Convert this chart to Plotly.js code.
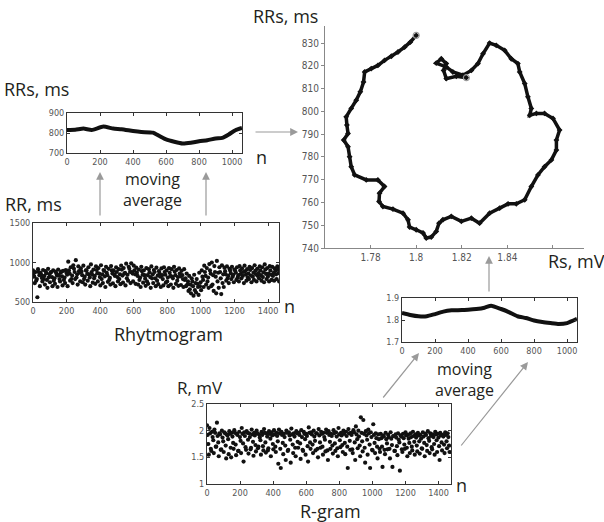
<!DOCTYPE html>
<html><head><meta charset="utf-8">
<script src="https://cdn.plot.ly/plotly-3.0.1.min.js"></script>
<style>html,body{margin:0;padding:0;background:#fff}#chart{width:604px;height:522px}</style>
</head><body><div id="chart"></div>
<script>
// ---- Panel 1: RRs moving average vs n ----
const rrsN   = [0,50,100,150,220,280,330,400,450,520,560,600,650,700,750,800,850,900,940,980,1020,1060];
const rrsVal = [815,816,822,815,832,822,819,810,805,802,785,768,756,747,751,759,764,773,776,793,814,825];

// ---- Panel 2: Rhytmogram (RR, ms), samples every 15 beats, four layers ----
const rrStep = 15;
const rrTop = [900,880,915,870,905,890,920,875,900,885,910,870,895,905,
  1010,940,965,1030,950,
  925,960,900,940,975,910,950,930,965,905,945,920,955,900,940,915,960,930,985,945,990,960,
  935,910,945,900,930,915,950,905,935,890,925,940,900,930,915,945,905,925,895,915,
  860,830,800,845,790,870,900,
  960,930,980,1000,955,1020,940,965,
  935,950,920,945,910,940,955,925,960,915,945,930,965,920,950,940,975,930,955,945,925,950];
const rrFill = [860,770,880,845,790,865,810,880,770,860,840,885,780,870,
  900,790,920,810,890,
  885,790,900,850,880,800,905,860,790,895,870,780,900,850,880,790,910,860,800,920,880,900,
  870,780,890,840,760,875,800,880,770,860,840,880,760,870,820,885,770,860,840,780,
  720,660,760,650,730,700,820,
  880,760,900,720,880,760,880,740,
  890,800,900,820,895,810,900,830,890,810,905,820,895,830,900,815,910,820,900,830,895,910];
const rrMid = [820,790,840,805,830,780,850,815,800,835,790,825,810,845,
  860,835,880,850,870,
  840,820,855,810,845,830,865,815,850,825,840,805,860,830,815,850,835,870,845,880,860,850,
  830,810,845,795,840,815,850,800,835,820,790,845,810,830,800,840,815,825,790,800,
  760,720,700,740,690,750,780,
  830,810,860,840,820,870,800,850,
  850,830,865,845,870,840,855,880,845,860,835,870,850,865,840,875,855,860,845,870,850,865];
const rrLow = [740,560,700,760,720,680,750,700,730,690,760,710,740,700,
  770,740,790,720,760,
  750,720,770,700,745,730,760,710,740,690,755,720,735,700,760,725,745,710,770,740,760,730,
  720,690,745,705,730,680,740,700,725,690,710,745,700,720,680,730,705,715,690,700,
  640,610,580,620,590,650,690,
  720,680,700,640,610,680,600,690,
  770,740,790,750,780,760,800,740,770,790,750,780,760,800,770,750,790,760,780,770,790,760];

// ---- Panel 3: phase loop (Rs, mV ; RRs, ms) ----
const loopRs = [1.822,1.8176,1.8132,1.8120,1.8132,1.8110,1.8088,1.8132,1.8161,1.8205,1.8242,1.8271,1.8293,1.8322,
  1.8351,1.8388,1.8417,1.8446,1.8454,1.8476,1.8490,1.8505,1.8498,1.8527,1.8563,1.8600,1.8629,1.8615,1.8615,
  1.8593,1.8563,1.8534,1.8505,1.8476,1.8439,1.8403,1.8366,1.8322,1.8278,1.8242,1.8198,1.8154,1.8117,1.8100,
  1.8088,1.8066,1.8044,1.8030,1.8000,1.7971,1.7964,1.7942,1.7898,1.7854,1.7837,1.7839,1.7861,1.7832,1.7781,
  1.7730,1.7715,1.7708,1.7701,1.7682,1.7701,1.7696,1.7693,1.7715,1.7737,1.7755,1.7769,1.7774,1.7803,1.7832,
  1.7861,1.7891,1.7920,1.7949,1.7974,1.8000];
const loopRRs = [814.8,815.4,814.4,818.0,821.0,823.1,821.2,819.5,817.3,815.9,818.0,821.0,825.3,830.0,
  829.0,826.8,823.1,821.0,817.3,812.2,806.4,801.3,798.3,799.1,799.1,796.9,791.8,787.4,783.0,
  778.7,775.7,772.1,767.0,761.2,759.4,759.4,757.5,755.3,750.9,753.1,751.7,753.9,752.4,750.9,
  747.3,744.8,744.4,746.6,748.0,749.2,752.4,755.3,757.1,758.2,760.4,764.1,767.0,769.9,769.9,
  772.1,775.7,780.1,784.5,787.4,790.3,794.0,797.6,801.3,804.9,808.6,812.9,817.3,818.8,820.2,
  822.4,824.2,826.1,828.2,830.4,833.4];
const loopXTicks = [1.78,1.80,1.82,1.84,1.86];
const loopXText  = ['1.78','1.8','1.82','1.84',''];
const loopYTicks = [740,750,760,770,780,790,800,810,820,830];

// ---- Panel 4: Rs moving average vs n ----
const rsN   = [0,50,100,150,200,250,300,400,450,500,540,600,650,700,750,800,850,900,950,1000,1060];
const rsVal = [1.832,1.823,1.817,1.817,1.827,1.838,1.844,1.847,1.850,1.856,1.865,1.850,1.835,1.817,1.809,1.798,1.791,1.786,1.782,1.786,1.805];

// ---- Panel 5: R-gram (R, mV), samples every 15 beats, four layers ----
const rStep = 15;
const rTop = [2.10,2.05,1.98,2.02,2.15,1.95,2.00,1.97,1.93,1.99,1.96,2.01,1.94,1.98,
  2.05,1.97,1.99,1.95,2.02,1.96,2.00,1.93,1.98,2.03,1.95,1.99,1.97,2.01,
  1.96,2.02,1.98,1.94,2.00,1.97,2.04,1.95,1.99,1.96,2.01,1.98,1.94,2.06,
  1.97,2.00,1.95,2.03,1.98,1.96,2.02,1.99,1.94,2.01,1.97,2.05,1.96,2.00,
  1.98,2.03,1.96,2.01,2.08,2.00,2.25,2.20,1.99,2.02,1.97,2.12,1.95,1.93,
  1.94,1.91,1.96,1.92,1.97,1.90,1.93,1.95,1.91,1.94,1.97,1.92,1.95,1.98,
  1.93,1.96,1.92,1.97,1.94,1.99,1.95,1.93,1.98,1.94,1.96,1.92,1.97,1.95];
const rFill = [1.92,1.95,1.88,1.96,1.90,1.93,1.87,1.95,1.91,1.94,1.89,1.96,1.92,1.88,
  1.94,1.90,1.96,1.88,1.93,1.91,1.95,1.87,1.92,1.96,1.89,1.94,1.91,1.93,
  1.90,1.95,1.92,1.88,1.96,1.91,1.93,1.89,1.95,1.92,1.88,1.94,1.90,1.96,
  1.93,1.89,1.95,1.91,1.94,1.88,1.96,1.92,1.90,1.95,1.89,1.93,1.91,1.94,
  1.90,1.95,1.92,1.97,1.93,1.89,1.96,1.94,1.91,1.95,1.88,1.92,1.86,1.84,
  1.86,1.89,1.84,1.88,1.85,1.90,1.87,1.83,1.89,1.86,1.91,1.85,1.88,1.90,
  1.87,1.91,1.85,1.89,1.92,1.86,1.90,1.88,1.93,1.87,1.91,1.89,1.92,1.88];
const rMid = [1.75,1.66,1.82,1.70,1.78,1.64,1.80,1.72,1.84,1.68,1.77,1.74,1.62,1.81,
  1.76,1.69,1.83,1.65,1.79,1.73,1.67,1.82,1.71,1.78,1.63,1.85,1.75,1.70,
  1.80,1.66,1.77,1.72,1.62,1.83,1.74,1.68,1.79,1.76,1.64,1.84,1.71,1.78,
  1.74,1.81,1.66,1.78,1.70,1.83,1.63,1.79,1.72,1.76,1.67,1.82,1.73,1.77,
  1.70,1.81,1.65,1.78,1.84,1.72,1.80,1.68,1.83,1.74,1.64,1.77,1.70,1.66,
  1.70,1.64,1.76,1.66,1.73,1.62,1.71,1.78,1.65,1.74,1.68,1.77,1.70,1.79,
  1.72,1.80,1.67,1.77,1.73,1.81,1.69,1.75,1.82,1.71,1.78,1.74,1.80,1.72];
const rLow = [1.55,1.62,1.58,1.70,1.52,1.65,1.60,1.48,1.56,1.50,1.66,1.54,1.62,1.58,
  1.42,1.64,1.57,1.68,1.53,1.61,1.70,1.55,1.63,1.59,1.67,1.52,1.65,1.60,
  1.38,1.30,1.56,1.45,1.64,1.40,1.58,1.52,1.68,1.47,1.62,1.55,1.42,1.66,
  1.58,1.63,1.50,1.68,1.55,1.61,1.45,1.66,1.57,1.62,1.52,1.69,1.60,1.56,
  1.30,1.64,1.58,1.45,1.67,1.52,1.61,1.40,1.55,1.30,1.63,1.58,1.48,1.60,
  1.32,1.56,1.65,1.48,1.32,1.62,1.54,1.25,1.60,1.66,1.52,1.58,1.63,1.55,
  1.61,1.57,1.66,1.52,1.62,1.58,1.65,1.55,1.60,1.45,1.63,1.58,1.67,1.60];

// ---------------- drawing ----------------
const W = 604, H = 522;
const px = v => v / W;
const py = v => 1 - v / H;
// sample number of each value (layers are interleaved beats)
const idx = (arr, step, off) => arr.map((_, i) => i * step + off);

const tickFont = {family: '"Liberation Sans Narrow", "DejaVu Sans Condensed", Arial, sans-serif', size: 9, color: '#555'};
const bigFont = {family: '"Open Sans", "Noto Sans", sans-serif', size: 18, color: '#231f20'};

function boxAxis(dom, range, tickvals, ticktext, anchor) {
  const a = {domain: dom, range: range, tickvals: tickvals, anchor: anchor,
    showline: true, mirror: 'ticks', linecolor: '#333', linewidth: 1,
    ticks: 'inside', ticklen: 3, tickcolor: '#333', tickwidth: 1,
    showgrid: false, zeroline: false, tickfont: tickFont, fixedrange: true};
  if (ticktext) { a.ticktext = ticktext; a.tickmode = 'array'; }
  return a;
}

const dots = {color: '#111', size: 4.2};
function scat(vals, step, off, xa, ya) {
  return {x: idx(vals, step, off), y: vals, xaxis: xa, yaxis: ya, mode: 'markers', marker: dots};
}
const traces = [
  {x: rrsN, y: rrsVal, xaxis: 'x', yaxis: 'y', mode: 'lines', line: {color: '#111', width: 4, shape: 'spline', smoothing: 0.5}},
  scat(rrTop, rrStep, 0, 'x2', 'y2'),
  scat(rrFill, rrStep, 4, 'x2', 'y2'),
  scat(rrMid, rrStep, 8, 'x2', 'y2'),
  scat(rrLow, rrStep, 11, 'x2', 'y2'),
  {x: loopRs, y: loopRRs, xaxis: 'x3', yaxis: 'y3', mode: 'lines+markers', line: {color: '#111', width: 3.5}, marker: {color: '#111', size: 4.5, symbol: 'diamond'}},
  {x: [loopRs[0], loopRs[loopRs.length - 1]], y: [loopRRs[0], loopRRs[loopRRs.length - 1]], xaxis: 'x3', yaxis: 'y3', mode: 'markers', marker: {color: 'rgba(0,0,0,0)', size: 6, line: {color: '#999', width: 1.2}}},
  {x: rsN, y: rsVal, xaxis: 'x4', yaxis: 'y4', mode: 'lines', line: {color: '#111', width: 4, shape: 'spline', smoothing: 0.5}},
  scat(rTop, rStep, 0, 'x5', 'y5'),
  scat(rFill, rStep, 4, 'x5', 'y5'),
  scat(rMid, rStep, 8, 'x5', 'y5'),
  scat(rLow, rStep, 11, 'x5', 'y5')
];

const n1000 = [0,200,400,600,800,1000];
const n1400 = [0,200,400,600,800,1000,1200,1400];

const layout = {
  width: W, height: H, margin: {l: 0, r: 0, t: 0, b: 0},
  paper_bgcolor: '#fff', plot_bgcolor: '#fff', showlegend: false,
  xaxis:  boxAxis([px(67), px(242)], [0, 1060], n1000, null, 'y'),
  yaxis:  boxAxis([py(153), py(113)], [700, 900], [700,800,900], null, 'x'),
  xaxis2: boxAxis([px(33), px(279)], [0, 1465], n1400, null, 'y2'),
  yaxis2: boxAxis([py(302), py(223)], [500, 1500], [500,1000,1500], null, 'x2'),
  xaxis4: boxAxis([px(402), px(577)], [0, 1060], n1000, null, 'y4'),
  yaxis4: boxAxis([py(342), py(298)], [1.7, 1.9], [1.7,1.8,1.9], null, 'x4'),
  xaxis5: boxAxis([px(207), px(451)], [0, 1475], n1400, null, 'y5'),
  yaxis5: boxAxis([py(484), py(404)], [1, 2.5], [1,1.5,2,2.5], ['1','1.5','2','2.5'], 'x5'),
  xaxis3: {domain: [px(325), px(584)], range: [1.76, 1.8736], anchor: 'y3',
    tickmode: 'array', tickvals: loopXTicks, ticktext: loopXText,
    showline: true, linecolor: '#888', linewidth: 1, ticks: 'inside', ticklen: 3, tickcolor: '#888',
    showgrid: false, zeroline: false, tickfont: Object.assign({}, tickFont, {size: 10}), fixedrange: true},
  yaxis3: {domain: [py(248), py(26)], range: [740, 837.5], anchor: 'x3',
    tickmode: 'array', tickvals: loopYTicks,
    showline: true, linecolor: '#888', linewidth: 1, ticks: 'outside', ticklen: 3, tickcolor: '#888',
    showgrid: false, zeroline: false, tickfont: Object.assign({}, tickFont, {size: 10}), fixedrange: true},
  annotations: []
};

function label(text, x, y, size) {
  layout.annotations.push({text: text, xref: 'paper', yref: 'paper', x: px(x), y: py(y),
    xanchor: 'center', yanchor: 'middle', showarrow: false,
    font: size ? Object.assign({}, bigFont, {size: size}) : bigFont});
}
label('RRs, ms', 36, 89);
label('n', 261, 157);
label('moving<br>average', 152, 190, 16);
label('RR, ms', 33, 204);
label('Rhytmogram', 168, 334);
label('n', 289, 306);
label('RRs, ms', 285, 16);
label('Rs, mV', 576, 261);
label('moving<br>average', 464, 379, 16);
label('R, mV', 200, 387, 17);
label('R-gram', 330, 511);
label('n', 461, 485);

function arrow(tx, ty, hx, hy) {
  layout.annotations.push({text: '', xref: 'paper', yref: 'paper', x: px(hx), y: py(hy),
    ax: tx - hx, ay: ty - hy, showarrow: true, arrowhead: 2, arrowsize: 1.3, arrowwidth: 1.2,
    arrowcolor: '#9a9a9a', standoff: 0, startstandoff: 0});
}
arrow(100, 217, 100, 172);
arrow(206, 217, 206, 172);
arrow(254, 132, 298, 132);
arrow(489, 293, 489, 256);
arrow(382, 399, 419, 353);
arrow(460, 447, 528, 362);

Plotly.newPlot('chart', traces, layout, {staticPlot: true, displayModeBar: false});
</script>
</body></html>
